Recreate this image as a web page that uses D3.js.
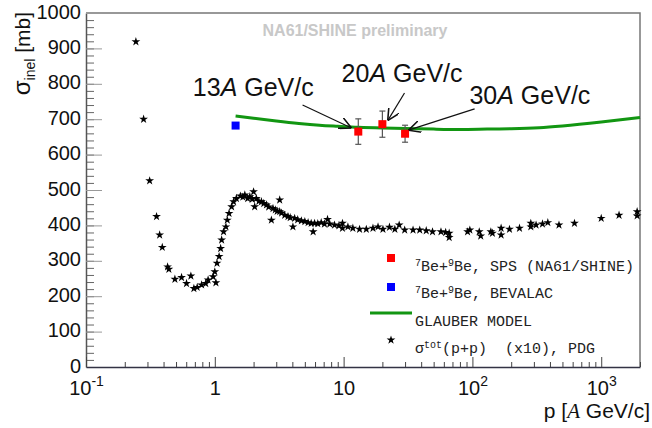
<!DOCTYPE html>
<html>
<head>
<meta charset="utf-8">
<script src="https://cdn.jsdelivr.net/npm/d3@7"></script>
<style>
  html, body { margin: 0; padding: 0; background: #fff; }
  svg { display: block; }
  .tick text { font-family: "Liberation Sans", Arial, sans-serif; }
</style>
</head>
<body>
<div id="chart"></div>
<script>
// ---- data ----
// p+p total cross section x10, PDG (stars)
const ppMomentum = [0.244, 0.28, 0.312, 0.353, 0.373, 0.391, 0.43, 0.44, 0.49, 0.552, 0.603, 0.652,
  0.688, 0.73, 0.79, 0.85, 0.887, 0.97, 1.02, 1.0, 1.04, 1.08, 1.11, 1.13, 1.17, 1.22, 1.25, 1.29,
  1.35, 1.40, 1.47, 1.58, 1.65, 1.71, 1.80, 1.87, 1.95, 2.0, 2.04, 2.10, 2.2, 2.30, 2.40, 2.52, 2.62,
  2.75, 2.83, 2.95, 3.05, 3.19, 3.19, 3.30, 3.49, 3.70, 3.85, 4.04, 4.17, 4.40, 4.70, 5.0, 5.3, 5.6,
  5.8, 5.95, 6.3, 6.7, 7.1, 7.5, 7.8, 8.5, 9.2, 9.8, 9.8, 10.8, 11.8, 13.3, 15.0, 16.9, 18.5, 20.2,
  22.7, 25, 27, 29.8, 34.6, 39, 43.8, 49, 57, 62, 66, 66, 91.7, 95.5, 113, 116, 139, 143, 167, 167,
  194, 232, 284, 284, 312, 350, 385, 470, 620, 1000, 1375, 1900, 1900];
const ppSigma = [919, 700, 526, 425, 373, 338, 283, 276, 248, 253, 236, 257,
  222, 225, 232, 236, 246, 255, 238, 269, 293, 312, 335, 359, 382, 396, 415, 434,
  453, 467, 476, 483, 480, 486, 476, 481, 474, 495, 453, 476, 468, 467, 462, 458, 452,
  415, 448, 444, 440, 472, 439, 435, 429, 425, 422, 396, 420, 416, 413, 411, 408, 406,
  382, 406, 405, 408, 404, 417, 404, 401, 399, 406, 392, 396, 392, 389, 389, 392, 396, 389,
  395, 389, 401, 387, 387, 387, 385, 382, 382, 380, 378, 366, 382, 387, 382, 370, 382, 378, 392, 373,
  389, 392, 396, 406, 401, 404, 408, 401, 406, 420, 429, 439, 427];

// Glauber model curve
const glauberP = [1.45, 2, 3, 4.5, 6.5, 9, 13, 20, 30, 50, 80, 130, 200, 330, 500, 1000, 2000];
const glauberSigma = [709, 703, 695, 688, 683, 680, 677, 675, 674, 672, 671, 672, 673, 676, 681, 692, 705];

// 7Be+9Be NA61/SHINE (red) and BEVALAC (blue)
const spsP = [13, 20, 30];
const spsSigma = [665, 686, 659];
const spsErr = [36, 37, 24];
const bevalacP = [1.45];
const bevalacSigma = [682];

// annotations: label, label anchor, arrow tail, arrow tip (data coords)
const annLabels = ["13", "20", "30"];
const annLabelP = [0.675, 9.65, 94.8];
const annLabelS = [765, 805, 743];
const annTailP = [4.8, 29.7, 104];
const annTailS = [740, 774, 729];
const annTipP = [11.5, 22.0, 31.9];
const annTipS = [675, 696, 669];

const xDecades = [0.1, 1, 10, 100, 1000];
const xDecadeLabels = [["10", "-1"], ["1", ""], ["10", ""], ["10", "2"], ["10", "3"]];
const yTicks = d3.range(0, 1001, 100);

// ---- layout ----
const width = 652, height = 428;
const margin = { top: 13, right: 12, bottom: 61, left: 86 };
const innerW = width - margin.left - margin.right;
const innerH = height - margin.top - margin.bottom;

const svg = d3.select("#chart").append("svg")
  .attr("width", width).attr("height", height);

const x = d3.scaleLog().domain([0.1, 2000]).range([0, innerW]);
const y = d3.scaleLinear().domain([0, 1000]).range([innerH, 0]);

const g = svg.append("g").attr("transform", `translate(${margin.left},${margin.top})`);

// frame (top and right)
g.append("path")
  .attr("d", `M0,0H${innerW}V${innerH}`)
  .attr("fill", "none").attr("stroke", "#777").attr("stroke-width", 1.5);

// y axis: minor ticks, then major ticks with labels
g.append("g")
  .call(d3.axisLeft(y).tickValues(d3.range(0, 1001, 20)).tickSize(-8).tickFormat(""))
  .call(a => a.select(".domain").remove())
  .call(a => a.selectAll("line").attr("stroke", "#666"));

g.append("g")
  .call(d3.axisLeft(y).tickValues(yTicks).tickSizeInner(-16).tickSizeOuter(0).tickPadding(5).tickFormat(d3.format("d")))
  .call(a => a.select(".domain").attr("stroke", "#555").attr("stroke-width", 1.5))
  .call(a => a.selectAll("line").attr("stroke", "#999"))
  .call(a => a.selectAll("text").attr("font-size", 20).attr("fill", "#111").attr("dy", "0.25em"));

// x axis: log minor ticks, decade ticks, labels
const minorX = [];
xDecades.forEach(d => { for (let k = 2; k <= 9; k++) if (d * k <= 2000) minorX.push(d * k); });

g.append("g").attr("transform", `translate(0,${innerH})`)
  .call(d3.axisBottom(x).tickValues(minorX).tickSize(-5).tickFormat(""))
  .call(a => a.select(".domain").remove())
  .call(a => a.selectAll("line").attr("stroke", "#444"));

const xAxis = g.append("g").attr("transform", `translate(0,${innerH})`)
  .call(d3.axisBottom(x).tickValues(xDecades).tickSizeInner(-10).tickSizeOuter(0).tickPadding(8.5))
  .call(a => a.select(".domain").attr("stroke", "#334").attr("stroke-width", 1.5))
  .call(a => a.selectAll("line").attr("stroke", "#444"));

xAxis.selectAll(".tick text").each(function(d, i) {
  const t = d3.select(this).text("").attr("font-size", 20).attr("fill", "#111").attr("dy", "0.95em");
  t.append("tspan").text(xDecadeLabels[i][0]);
  if (xDecadeLabels[i][1]) t.append("tspan").attr("font-size", 14).attr("dy", "-0.6em").text(xDecadeLabels[i][1]);
});

// axis titles
const yTitle = svg.append("text")
  .attr("transform", "translate(30,12) rotate(-90)")
  .attr("text-anchor", "end")
  .attr("font-family", "Liberation Sans, Arial, sans-serif")
  .attr("font-size", 21).attr("fill", "#111");
yTitle.append("tspan").attr("font-size", 24).text("σ");
yTitle.append("tspan").attr("font-size", 14).attr("dy", 5).text("inel");
yTitle.append("tspan").attr("dy", -5).text(" [mb]");

const xTitle = svg.append("text")
  .attr("x", 650).attr("y", 418)
  .attr("text-anchor", "end")
  .attr("font-family", "Liberation Sans, Arial, sans-serif")
  .attr("font-size", 21).attr("fill", "#111");
xTitle.append("tspan").text("p [");
xTitle.append("tspan").attr("font-family", "Liberation Serif, Times New Roman, serif").attr("font-style", "italic").text("A");
xTitle.append("tspan").text(" GeV/c]");

// watermark
svg.append("text")
  .attr("x", 355).attr("y", 36)
  .attr("text-anchor", "middle")
  .attr("font-family", "Liberation Sans, Arial, sans-serif")
  .attr("font-weight", "bold").attr("font-size", 16)
  .attr("fill", "#c8c8c8")
  .text("NA61/SHINE preliminary");

// stars
const star = d3.symbol().type(d3.symbolStar).size(24);
g.append("g").selectAll("path")
  .data(ppMomentum.map((p, i) => [p, ppSigma[i]]))
  .join("path")
  .attr("transform", d => `translate(${x(d[0])},${y(d[1])})`)
  .attr("d", star)
  .attr("fill", "#000");

// glauber
g.append("path")
  .datum(glauberP.map((p, i) => [p, glauberSigma[i]]))
  .attr("fill", "none").attr("stroke", "#129612").attr("stroke-width", 3)
  .attr("d", d3.line().x(d => x(d[0])).y(d => y(d[1])).curve(d3.curveMonotoneX));

// error bars
const eb = g.append("g").attr("stroke", "#555").attr("stroke-width", 1.2);
spsP.forEach((p, i) => {
  const cx = x(p);
  eb.append("line").attr("x1", cx).attr("x2", cx).attr("y1", y(spsSigma[i] - spsErr[i])).attr("y2", y(spsSigma[i] + spsErr[i]));
  [spsSigma[i] - spsErr[i], spsSigma[i] + spsErr[i]].forEach(v =>
    eb.append("line").attr("x1", cx - 3).attr("x2", cx + 3).attr("y1", y(v)).attr("y2", y(v)));
});

const sq = 8;
g.append("g").selectAll("rect")
  .data(spsP.map((p, i) => [p, spsSigma[i]]))
  .join("rect")
  .attr("x", d => x(d[0]) - sq / 2).attr("y", d => y(d[1]) - sq / 2)
  .attr("width", sq).attr("height", sq).attr("fill", "#f00");

g.append("g").selectAll("rect")
  .data(bevalacP.map((p, i) => [p, bevalacSigma[i]]))
  .join("rect")
  .attr("x", d => x(d[0]) - sq / 2).attr("y", d => y(d[1]) - sq / 2)
  .attr("width", sq).attr("height", sq).attr("fill", "#00f");

// annotations with arrows
svg.append("defs").append("marker")
  .attr("id", "arrow").attr("viewBox", "0 0 10 10")
  .attr("refX", 10).attr("refY", 5)
  .attr("markerWidth", 12).attr("markerHeight", 12)
  .attr("markerUnits", "userSpaceOnUse")
  .attr("orient", "auto")
  .append("path").attr("d", "M0,0L10,5L0,10").attr("fill", "none").attr("stroke", "#111").attr("stroke-width", 1.3);

annLabels.forEach((lab, i) => {
  g.append("line")
    .attr("x1", x(annTailP[i])).attr("y1", y(annTailS[i]))
    .attr("x2", x(annTipP[i])).attr("y2", y(annTipS[i]))
    .attr("stroke", "#111").attr("stroke-width", 1.2)
    .attr("marker-end", "url(#arrow)");
  const t = g.append("text")
    .attr("x", x(annLabelP[i])).attr("y", y(annLabelS[i]))
    .attr("font-family", "Liberation Sans, Arial, sans-serif")
    .attr("font-size", 25).attr("fill", "#111");
  t.append("tspan").text(lab);
  t.append("tspan").attr("font-style", "italic").text("A");
  t.append("tspan").text(" GeV/c");
});

// legend
const legFont = "Courier New, Liberation Mono, monospace";
const leg = svg.append("g").attr("font-family", legFont).attr("font-size", 15).attr("fill", "#222");
const legX = 391, legTextX = 415;
const legY = [258, 287, 313, 340];

leg.append("rect").attr("x", legX - 4).attr("y", legY[0] - 4).attr("width", 8).attr("height", 8).attr("fill", "#f00");
leg.append("rect").attr("x", legX - 4).attr("y", legY[1] - 4).attr("width", 8).attr("height", 8).attr("fill", "#00f");
leg.append("line").attr("x1", 370).attr("x2", 412).attr("y1", legY[2]).attr("y2", legY[2])
  .attr("stroke", "#129612").attr("stroke-width", 3);
leg.append("path").attr("transform", `translate(${legX},${legY[3]})`).attr("d", star).attr("fill", "#000");

function beLabel(t, rest) {
  t.append("tspan").attr("font-size", 10).attr("dy", -5).text("7");
  t.append("tspan").attr("dy", 5).text("Be+");
  t.append("tspan").attr("font-size", 10).attr("dy", -5).text("9");
  t.append("tspan").attr("dy", 5).text("Be, " + rest);
}
beLabel(leg.append("text").attr("x", legTextX).attr("y", legY[0] + 13), "SPS (NA61/SHINE)");
beLabel(leg.append("text").attr("x", legTextX).attr("y", legY[1] + 11), "BEVALAC");
leg.append("text").attr("x", legTextX).attr("y", legY[2] + 13).text("GLAUBER MODEL");
const sLab = leg.append("text").attr("x", legTextX).attr("y", legY[3] + 13).style("white-space", "pre");
sLab.append("tspan").text("σ");
sLab.append("tspan").attr("font-size", 10).attr("dy", -5).text("tot");
sLab.append("tspan").attr("dy", 5).text("(p+p)  (x10), PDG");
</script>
</body>
</html>
